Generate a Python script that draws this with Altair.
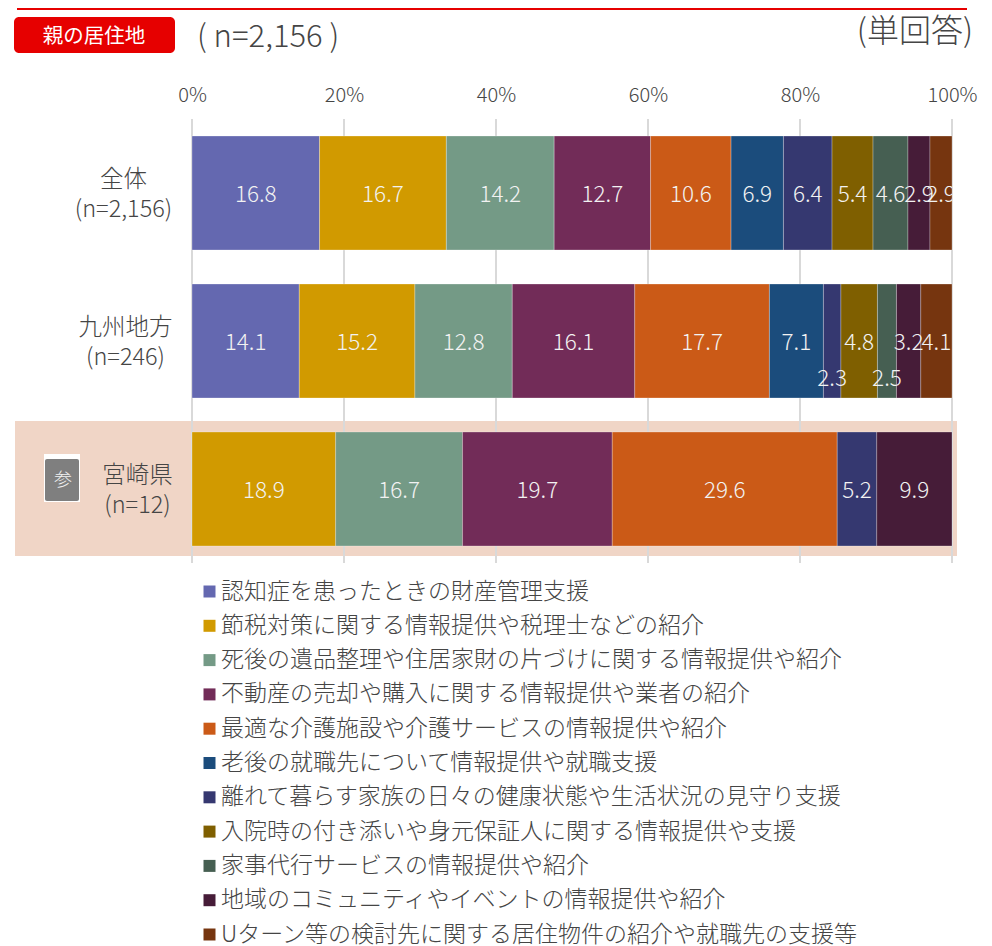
import altair as alt
import pandas as pd

FONT = "Noto Sans CJK JP"
rows = ["全体", "九州地方", "宮崎県"]
row_texts = ["全体\n(n=2,156)", "九州地方\n(n=246)", "宮崎県\n(n=12)"]
series = [
    "認知症を患ったときの財産管理支援",
    "節税対策に関する情報提供や税理士などの紹介",
    "死後の遺品整理や住居家財の片づけに関する情報提供や紹介",
    "不動産の売却や購入に関する情報提供や業者の紹介",
    "最適な介護施設や介護サービスの情報提供や紹介",
    "老後の就職先について情報提供や就職支援",
    "離れて暮らす家族の日々の健康状態や生活状況の見守り支援",
    "入院時の付き添いや身元保証人に関する情報提供や支援",
    "家事代行サービスの情報提供や紹介",
    "地域のコミュニティやイベントの情報提供や紹介",
    "Uターン等の検討先に関する居住物件の紹介や就職先の支援等",
]
colors = ["#6468b0", "#d19a00", "#749a86", "#722c58", "#cb5a17", "#1b4c7c",
          "#353870", "#7f5f00", "#465f52", "#461c38", "#76350f"]
zentai = [16.8, 16.7, 14.2, 12.7, 10.6, 6.9, 6.4, 5.4, 4.6, 2.9, 2.9]
kyushu = [14.1, 15.2, 12.8, 16.1, 17.7, 7.1, 2.3, 4.8, 2.5, 3.2, 4.1]
miyazaki = [None, 18.9, 16.7, 19.7, 29.6, None, 5.2, None, None, 9.9, None]
ticks = [0, 0.2, 0.4, 0.6, 0.8, 1.0]
lowered = [("九州地方", 2.3), ("九州地方", 2.5)]

recs = []
for r, vals in zip(rows, [zentai, kyushu, miyazaki]):
    for i, (s, v) in enumerate(zip(series, vals)):
        if v is not None:
            recs.append({"row": r, "series": s, "order": i, "value": v,
                         "label": f"{v:.1f}", "low": (r, v) in lowered})
df = pd.DataFrame(recs)

TEXT = "#454545"
xs = alt.Scale(domain=[0, 1], nice=False, zero=False)
ys = alt.Scale(domain=rows, paddingInner=0.23, paddingOuter=0.115)
x_axis = alt.Axis(
    orient="top", values=ticks, format=".0%", grid=False, domain=False, ticks=False,
    labelPadding=14, labelFontSize=20, labelFont=FONT, labelFontWeight=300, labelColor=TEXT,
    labelFlush=False, labelBound=False, labelOverlap=False, title=None)
base = alt.Chart(df).transform_stack(
    stack="value", as_=["x0", "x1"], groupby=["row"],
    sort=[alt.SortField("order", order="ascending")], offset="normalize"
).transform_calculate(mid="(datum.x0+datum.x1)/2")


def deco_rect(x, x2, y, y2, color, **kw):
    return alt.Chart(pd.DataFrame({"a": [0]})).mark_rect(color=color, **kw).encode(
        x=alt.value(x), x2=alt.value(x2), y=alt.value(y), y2=alt.value(y2))


def deco_text(t, x, y, size, color=TEXT, align="center", weight=300, **kw):
    return alt.Chart(pd.DataFrame({"t": [t]})).mark_text(
        font=FONT, fontSize=size, fontWeight=weight, color=color, align=align, baseline="middle", **kw
    ).encode(text="t:N", x=alt.value(x), y=alt.value(y))


band = deco_rect(-177, 765, 302, 437, "#f0d5c6")
top_line = deco_rect(-175, 775, -111, -109, "#e60000")
badge = deco_rect(-178, -17, -102, -66, "#e60000", cornerRadius=5)

grid = alt.Chart(pd.DataFrame({"t": ticks})).mark_rule(color="#d9d9d9", strokeWidth=2).encode(
    x=alt.X("t:Q", scale=xs, axis=x_axis),
    y=alt.value(0), y2=alt.value(444))

bars = base.mark_bar(stroke="#ffffff", strokeOpacity=0.35, strokeWidth=0.75).encode(
    x=alt.X("x0:Q", scale=xs, axis=x_axis),
    x2="x1:Q",
    y=alt.Y("row:N", scale=ys, axis=None),
    color=alt.Color("series:N", scale=alt.Scale(domain=series, range=colors), legend=alt.Legend(
        orient="none", legendX=6, legendY=461, title=None, symbolType="square", symbolSize=144,
        symbolOpacity=1, symbolStrokeWidth=0, labelFont=FONT, labelFontSize=23, labelFontWeight=300,
        labelColor=TEXT, labelLimit=900, rowPadding=10.3, labelOffset=0, columns=1)),
)

labels = base.transform_filter("!datum.low").mark_text(
    font=FONT, fontSize=22.5, fontWeight=300, color="#f2f2f2", clip=True, baseline="middle", dy=2
).encode(x=alt.X("mid:Q", scale=xs, axis=x_axis), y=alt.Y("row:N", scale=ys, axis=None), text="label:N")
labels_low = base.transform_filter("datum.low").mark_text(
    font=FONT, fontSize=22.5, fontWeight=300, color="#f2f2f2", clip=True, baseline="middle", dy=38
).encode(x=alt.X("mid:Q", scale=xs, axis=x_axis), y=alt.Y("row:N", scale=ys, axis=None), text="label:N")

row_layers = []
for r, t, cx in zip(rows, row_texts, [-68.5, -66.5, -54.5]):
    row_layers.append(alt.Chart(pd.DataFrame({"row": [r], "t": [t]})).mark_text(
        font=FONT, fontSize=23.5, fontWeight=300, color=TEXT, lineBreak="\n", lineHeight=30,
        baseline="middle", dy=-13
    ).encode(x=alt.value(cx), y=alt.Y("row:N", scale=ys, axis=None), text="t:N"))

book = [
    deco_rect(-148, -112, 335, 383, "#ffffff"),
    deco_rect(-147, -113, 340, 382, "#7f7f7f", cornerRadius=2),
    deco_text("参", -129, 362, 18, color="#f2f2f2"),
]

chart = alt.layer(
    band, top_line, badge, grid, bars, labels, labels_low, *row_layers, *book,
    deco_text("親の居住地", -98, -82, 20.5, color="#ffffff", weight=400),
    deco_text("( n=2,156 )", 5, -81, 31, align="left"),
    deco_text("(単回答)", 781, -87, 32, align="right"),
).properties(
    width=760, height=444,
    autosize=alt.AutoSizeParams(type="none"),
    padding={"left": 184, "top": 111, "right": 32, "bottom": 383},
).configure_view(stroke=None)

chart.save("out.html", embed_options={"renderer": "svg", "actions": False})
